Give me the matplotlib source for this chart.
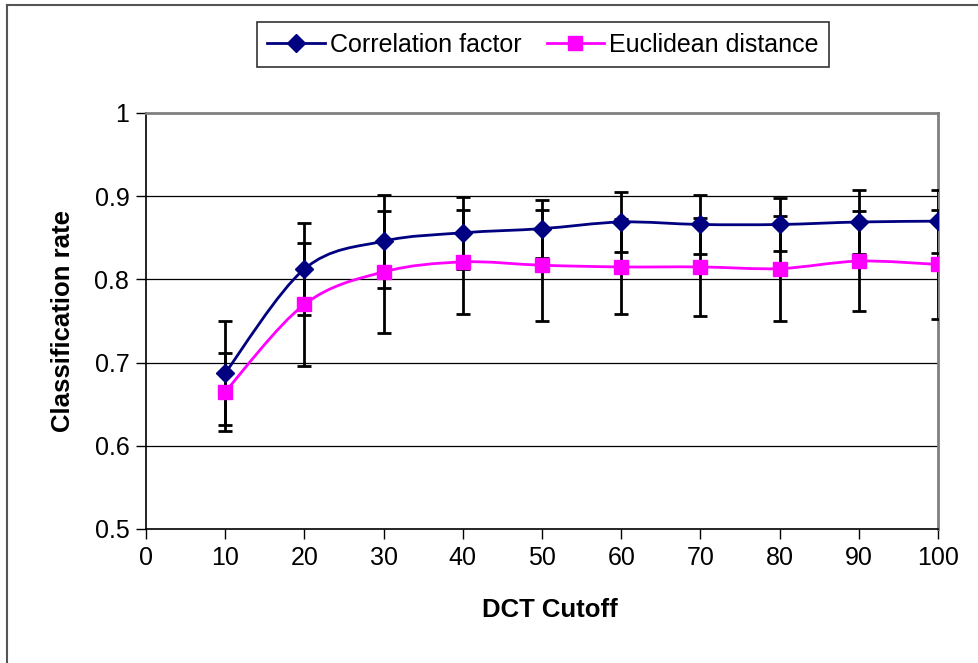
import numpy as np
import matplotlib
matplotlib.use("Agg")
import matplotlib.pyplot as plt
from matplotlib.path import Path
from matplotlib.patches import PathPatch
from matplotlib.lines import Line2D

plt.rcParams['font.family'] = ['Liberation Sans', 'DejaVu Sans']

cutoff = [10, 20, 30, 40, 50, 60, 70, 80, 90, 100]
corr = [0.6875, 0.8125, 0.846, 0.856, 0.861, 0.869, 0.866, 0.866, 0.869, 0.870]
corr_err = [0.062, 0.055, 0.056, 0.043, 0.035, 0.036, 0.036, 0.032, 0.038, 0.038]
eucl = [0.665, 0.770, 0.809, 0.821, 0.817, 0.815, 0.815, 0.813, 0.822, 0.818]
eucl_err = [0.047, 0.074, 0.073, 0.062, 0.067, 0.057, 0.059, 0.063, 0.060, 0.065]

x_ticks = [0, 10, 20, 30, 40, 50, 60, 70, 80, 90, 100]
y_ticks = [0.5, 0.6, 0.7, 0.8, 0.9, 1.0]
y_ticklabels = ['0.5', '0.6', '0.7', '0.8', '0.9', '1']

NAVY = '#000080'
MAGENTA = '#FF00FF'


def smooth_path(xs, ys):
    pts = np.column_stack([xs, ys]).astype(float)
    n = len(pts)
    verts = [pts[0]]
    codes = [Path.MOVETO]
    for i in range(n - 1):
        p0 = pts[i - 1] if i > 0 else pts[i]
        p1 = pts[i]
        p2 = pts[i + 1]
        p3 = pts[i + 2] if i + 2 < n else pts[i + 1]
        c1 = p1 + (p2 - p0) / 6.0
        c2 = p2 - (p3 - p1) / 6.0
        verts += [c1, c2, p2]
        codes += [Path.CURVE4] * 3
    return Path(verts, codes)


fig = plt.figure(figsize=(9.79, 6.63), dpi=100)
ax = fig.add_axes([146 / 979, 1 - 529 / 663, (938 - 146) / 979, (529 - 113) / 663])

ax.set_xlim(0, 100)
ax.set_ylim(0.5, 1.0)

for yv in y_ticks[1:-1]:
    ax.axhline(yv, color='black', lw=0.9, zorder=1)

for ys, col in [(corr, NAVY), (eucl, MAGENTA)]:
    ax.add_patch(PathPatch(smooth_path(cutoff, ys), facecolor='none',
                           edgecolor=col, lw=2.0, zorder=3))

ax.errorbar(cutoff, corr, yerr=corr_err, fmt='none', ecolor='black',
            elinewidth=2.0, capsize=5, capthick=2.0, zorder=4)
ax.errorbar(cutoff, eucl, yerr=eucl_err, fmt='none', ecolor='black',
            elinewidth=2.0, capsize=5, capthick=2.0, zorder=4)

ax.plot(cutoff, corr, linestyle='none', marker='D', markersize=9,
        color=NAVY, zorder=5)
ax.plot(cutoff, eucl, linestyle='none', marker='s', markersize=10.5,
        color=MAGENTA, zorder=5)

ax.set_xticks(x_ticks)
ax.set_xticklabels([str(v) for v in x_ticks])
ax.set_yticks(y_ticks)
ax.set_yticklabels(y_ticklabels)
ax.tick_params(axis='both', direction='out', length=7, width=1.0,
               labelsize=18, colors='black')
ax.tick_params(axis='x', pad=5.5)
ax.tick_params(axis='y', pad=5)

ax.spines['left'].set_color('black')
ax.spines['bottom'].set_color('black')
ax.spines['left'].set_linewidth(1.2)
ax.spines['bottom'].set_linewidth(1.2)
ax.spines['top'].set_color('#808080')
ax.spines['right'].set_color('#808080')
ax.spines['top'].set_linewidth(2.0)
ax.spines['right'].set_linewidth(2.0)

ax.set_xlabel('DCT Cutoff', fontsize=18.5, fontweight='bold')
ax.xaxis.set_label_coords((550 - 146) / 792, -0.167)
ax.set_ylabel('Classification rate', fontsize=18.5, fontweight='bold', labelpad=14)

handles = [
    Line2D([], [], color=NAVY, lw=2, marker='D', markersize=9),
    Line2D([], [], color=MAGENTA, lw=2, marker='s', markersize=10.5),
]
leg = fig.legend(handles, ['Correlation factor', 'Euclidean distance'],
                 loc='center', bbox_to_anchor=(543 / 979, 1 - 44.5 / 663),
                 ncol=2, fontsize=18, frameon=True, fancybox=False,
                 edgecolor='black', handlelength=2.3, handletextpad=0.2,
                 columnspacing=1.0, borderpad=0.42, borderaxespad=0)
leg.get_frame().set_linewidth(1.2)

# outer chart border (top and left visible)
fig.add_artist(Line2D([7 / 979, 1.0], [1 - 5 / 663, 1 - 5 / 663],
                      transform=fig.transFigure, color='#555555', lw=1.5))
fig.add_artist(Line2D([7 / 979, 7 / 979], [0.0, 1 - 5 / 663],
                      transform=fig.transFigure, color='#555555', lw=1.5))

fig.savefig('out.png', dpi=100)
